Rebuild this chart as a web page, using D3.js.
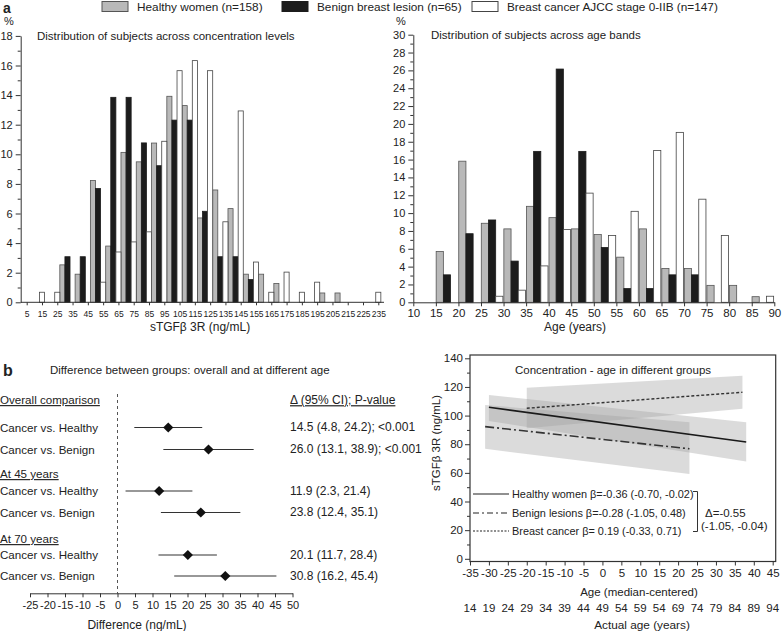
<!DOCTYPE html>
<html>
<head>
<meta charset="utf-8">
<script src="https://cdn.jsdelivr.net/npm/d3@7"></script>
<style>
body { margin: 0; background: #fff; }
text { font-family: "Liberation Sans", Arial, sans-serif; fill: #222; }
</style>
</head>
<body>
<script>

// ---- data ----
const groupNames = ["Healthy women (n=158)", "Benign breast lesion (n=65)", "Breast cancer AJCC stage 0-IIB (n=147)"];

// concentration histogram (% per bin, bins labelled by upper edge)
const concTicks = [5, 15, 25, 35, 45, 55, 65, 75, 85, 95, 105, 115, 125, 135, 145, 155, 165, 175, 185, 195, 205, 215, 225, 235];
const concHealthy = [0, 0, 0, 2.53, 1.90, 8.23, 3.80, 10.13, 9.49, 10.76, 13.92, 13.29, 5.70, 7.59, 6.33, 1.90, 1.90, 1.27, 0, 0, 0.63, 0.63, 0, 0];
const concBenign = [0, 0, 0, 3.08, 3.08, 7.69, 13.85, 13.85, 10.77, 9.23, 12.31, 12.31, 6.15, 3.08, 3.08, 1.54, 0, 0, 0, 0, 0, 0, 0, 0];
const concCancer = [0, 0.68, 0.68, 0, 0, 1.36, 3.40, 4.08, 4.76, 10.88, 15.65, 16.33, 15.65, 5.44, 12.93, 2.72, 0.68, 2.04, 0.68, 1.36, 0, 0, 0, 0.68];

// age histogram (% per 5-year band, bands labelled by lower edge)
const ageTicks = [10, 15, 20, 25, 30, 35, 40, 45, 50, 55, 60, 65, 70, 75, 80, 85, 90];
const ageBands = [10, 15, 20, 25, 30, 35, 40, 45, 50, 55, 60, 65, 70, 75, 80, 85];
const ageHealthy = [0, 5.70, 15.82, 8.86, 8.23, 10.76, 9.49, 8.23, 7.59, 5.06, 8.23, 3.80, 3.80, 1.90, 1.90, 0.63];
const ageBenign = [0, 3.08, 7.69, 9.23, 4.62, 16.92, 26.15, 16.92, 6.15, 1.54, 1.54, 3.08, 3.08, 0, 0, 0];
const ageCancer = [0, 0, 0, 0.68, 1.36, 4.08, 8.16, 12.24, 7.48, 10.20, 17.01, 19.05, 11.56, 7.48, 0, 0.68];

// forest plot
const forestHeaders = ["Overall comparison", "At 45 years", "At 70 years"];
const forestLabels = ["Cancer vs. Healthy", "Cancer vs. Benign", "Cancer vs. Healthy", "Cancer vs. Benign", "Cancer vs. Healthy", "Cancer vs. Benign"];
const forestEst = [14.5, 26.0, 11.9, 23.8, 20.1, 30.8];
const forestLo = [4.8, 13.1, 2.3, 12.4, 11.7, 16.2];
const forestHi = [24.2, 38.9, 21.4, 35.1, 28.4, 45.4];
const forestP = ["<0.001", "<0.001", "", "", "", ""];
const forestTicks = [-25, -20, -15, -10, -5, 0, 5, 10, 15, 20, 25, 30, 35, 40, 45, 50];

// regression: concentration vs age
const regLegend = ["Healthy women \u03b2=-0.36 (-0.70, -0.02)", "Benign lesions \u03b2=-0.28 (-1.05, 0.48)", "Breast cancer  \u03b2= 0.19 (-0.33, 0.71)"];
const regX0 = [-30, -31, -20];
const regX1 = [38, 23, 37];
const regY0 = [105.8, 92.3, 105.1];
const regY1 = [81.5, 76.8, 116.3];
const bandUp0 = [114.4, 107.4, 119.5];
const bandUp1 = [95.4, 95.4, 127.9];
const bandLo0 = [96.3, 76.8, 91.2];
const bandLo1 = [67.9, 59.2, 104.7];
const centredTicks = [-35, -30, -25, -20, -15, -10, -5, 0, 5, 10, 15, 20, 25, 30, 35, 40, 45];
const actualAgeLabels = ["14", "19", "24", "29", "34", "39", "44", "49", "54", "59", "54", "69", "74", "79", "84", "89", "94"];

// ---- styles ----
const fills = ["#b9b9b9", "#1c1c1c", "#ffffff"];
const strokes = ["#555", "#1c1c1c", "#444"];
const plain = d => String(d);   // hyphen-minus, like the original

const svg = d3.select('body')
    .append("svg")
    .attr("width", 783)
    .attr("height", 631);

function styleAxis(g, size) {
    g.selectAll("line").attr("stroke", "#333");
    g.selectAll("path").attr("stroke", "#333");
    g.selectAll("text").attr("font-size", size);
}

// ---- legend ----
const legendX = [102, 282, 472];
groupNames.forEach((name, i) => {
    svg.append("rect")
        .attr("x", legendX[i]).attr("y", 1.5)
        .attr("width", 26).attr("height", 10)
        .attr("fill", fills[i]).attr("stroke", strokes[i]).attr("stroke-width", 1);
    svg.append("text")
        .attr("x", legendX[i] + 35).attr("y", 11)
        .attr("font-size", 11.8)
        .text(name);
});

svg.append("text").attr("x", 3).attr("y", 13).attr("font-size", 14).attr("font-weight", "bold").text("a");

// ---- concentration histogram ----
const xC = d3.scaleLinear().domain([5, 235]).range([26.7, 378.3]);
const yC = d3.scaleLinear().domain([0, 18]).range([302.3, 35.9]);
const cw = (xC(15) - xC(5)) / 3;

[concHealthy, concBenign, concCancer].forEach((vals, s) => {
    svg.append("g")
        .selectAll("rect")
        .data(vals.map((v, i) => ({ v: v, t: concTicks[i] })).filter(d => d.v > 0))
        .enter()
        .append("rect")
        .attr("x", d => xC(d.t) - (2.5 - s) * cw)
        .attr("y", d => yC(d.v))
        .attr("width", cw)
        .attr("height", d => yC(0) - yC(d.v))
        .attr("fill", fills[s])
        .attr("stroke", strokes[s])
        .attr("stroke-width", 0.8);
});

svg.append("g")
    .attr("transform", "translate(20.7,0)")
    .call(d3.axisLeft(yC).tickValues(d3.range(0, 19, 2)).tickSize(5).tickSizeOuter(0).tickPadding(3).tickFormat(plain))
    .call(g => styleAxis(g, 11));
svg.append("g")
    .attr("transform", "translate(20.7,0)")
    .call(d3.axisLeft(yC).tickValues(d3.range(1, 18, 2)).tickSize(3).tickFormat(""))
    .call(g => g.select(".domain").remove())
    .call(g => styleAxis(g, 11));

svg.append("g")
    .attr("transform", `translate(0,${yC(0)})`)
    .call(d3.axisBottom(xC).tickValues(concTicks).tickSize(3).tickPadding(6).tickFormat(plain))
    .call(g => g.select(".domain").remove())
    .call(g => styleAxis(g, 8.5));
svg.append("line")
    .attr("x1", 20.7).attr("x2", 384)
    .attr("y1", yC(0)).attr("y2", yC(0))
    .attr("stroke", "#333");

svg.append("text").attr("x", 4).attr("y", 25).attr("font-size", 11).text("%");
svg.append("text").attr("x", 37).attr("y", 40).attr("font-size", 11.5)
    .text("Distribution of subjects across concentration levels");
svg.append("text").attr("x", 200).attr("y", 331).attr("font-size", 12)
    .attr("text-anchor", "middle").text("sTGF\u03b2 3R (ng/mL)");

// ---- age histogram ----
const xA = d3.scaleLinear().domain([10, 90]).range([413.3, 774.3]);
const yA = d3.scaleLinear().domain([0, 30]).range([302.3, 34.7]);
const aw = 7.2;

[ageHealthy, ageBenign, ageCancer].forEach((vals, s) => {
    svg.append("g")
        .selectAll("rect")
        .data(vals.map((v, i) => ({ v: v, b: ageBands[i] })).filter(d => d.v > 0))
        .enter()
        .append("rect")
        .attr("x", d => xA(d.b) + 0.3 + s * aw)
        .attr("y", d => yA(d.v))
        .attr("width", aw)
        .attr("height", d => yA(0) - yA(d.v))
        .attr("fill", fills[s])
        .attr("stroke", strokes[s])
        .attr("stroke-width", 0.8);
});

svg.append("g")
    .attr("transform", "translate(413.3,0)")
    .call(d3.axisLeft(yA).tickValues(d3.range(0, 31, 2)).tickSize(5).tickSizeOuter(0).tickPadding(3).tickFormat(plain))
    .call(g => styleAxis(g, 11));
svg.append("g")
    .attr("transform", "translate(413.3,0)")
    .call(d3.axisLeft(yA).tickValues(d3.range(1, 30, 2)).tickSize(3).tickFormat(""))
    .call(g => g.select(".domain").remove())
    .call(g => styleAxis(g, 11));
svg.append("g")
    .attr("transform", `translate(0,${yA(0)})`)
    .call(d3.axisBottom(xA).tickValues(ageTicks).tickSize(4).tickSizeOuter(0).tickPadding(3).tickFormat(plain))
    .call(g => styleAxis(g, 11.5));

svg.append("text").attr("x", 396).attr("y", 25).attr("font-size", 11).text("%");
svg.append("text").attr("x", 431).attr("y", 39).attr("font-size", 11.5)
    .text("Distribution of subjects across age bands");
svg.append("text").attr("x", 575).attr("y", 331).attr("font-size", 12)
    .attr("text-anchor", "middle").text("Age (years)");

// ---- forest plot ----
svg.append("text").attr("x", 3).attr("y", 376).attr("font-size", 16).attr("font-weight", "bold").text("b");
svg.append("text").attr("x", 50).attr("y", 374).attr("font-size", 11.5)
    .text("Difference between groups: overall and at different age");

const xF = d3.scaleLinear().domain([-25, 50]).range([30, 292.5]);
const headerY = [400, 474, 539];
const rowY = [427.5, 449.5, 491, 512.5, 555, 576];
const fAxisY = 593.3;

svg.append("line")
    .attr("x1", xF(0)).attr("x2", xF(0))
    .attr("y1", 394).attr("y2", fAxisY)
    .attr("stroke", "#555").attr("stroke-dasharray", "3,3");

forestHeaders.forEach((h, i) => {
    svg.append("text").attr("x", 0).attr("y", headerY[i]).attr("dy", "0.35em")
        .attr("font-size", 11.6).attr("text-decoration", "underline").text(h);
});
svg.append("text").attr("x", 290).attr("y", headerY[0]).attr("dy", "0.35em")
    .attr("font-size", 12).attr("text-decoration", "underline").text("\u0394 (95% CI); P-value");

forestLabels.forEach((lab, i) => {
    svg.append("text").attr("x", 0).attr("y", rowY[i]).attr("dy", "0.35em")
        .attr("font-size", 11.6).text(lab);
    svg.append("line")
        .attr("x1", xF(forestLo[i])).attr("x2", xF(forestHi[i]))
        .attr("y1", rowY[i]).attr("y2", rowY[i])
        .attr("stroke", "#333").attr("stroke-width", 1.2);
    svg.append("path")
        .attr("d", d3.symbol(d3.symbolSquare, 52)())
        .attr("transform", `translate(${xF(forestEst[i])},${rowY[i]}) rotate(45)`)
        .attr("fill", "#111");
    const txt = `${forestEst[i].toFixed(1)} (${forestLo[i].toFixed(1)}, ${forestHi[i].toFixed(1)})` + (forestP[i] ? `; ${forestP[i]}` : "");
    svg.append("text").attr("x", 290).attr("y", rowY[i] - 0.5).attr("dy", "0.35em")
        .attr("font-size", 12).text(txt);
});

svg.append("g")
    .attr("transform", `translate(0,${fAxisY})`)
    .call(d3.axisBottom(xF).tickValues(forestTicks).tickSize(4).tickSizeOuter(0).tickPadding(4).tickFormat(plain))
    .call(g => styleAxis(g, 11));
svg.append("text").attr("x", 137).attr("y", 629).attr("font-size", 12)
    .attr("text-anchor", "middle").text("Difference (ng/mL)");

// ---- regression panel ----
const xR = d3.scaleLinear().domain([-35, 45]).range([470, 772.7]);
const yR = d3.scaleLinear().domain([0, 140]).range([558.8, 358.3]);
const frameBottom = 561.5;

// confidence bands
regX0.forEach((x0, i) => {
    const pts = [[x0, bandUp0[i]], [regX1[i], bandUp1[i]], [regX1[i], bandLo1[i]], [x0, bandLo0[i]]];
    svg.append("path")
        .attr("d", d3.line().x(d => xR(d[0])).y(d => yR(d[1]))(pts) + "Z")
        .attr("fill", "#a0a0a0")
        .attr("fill-opacity", 0.38);
});

const dashes = [null, "9,3,2,3", "3,2"];
const widths = [1.6, 1.6, 1.4];
regX0.forEach((x0, i) => {
    svg.append("line")
        .attr("x1", xR(x0)).attr("y1", yR(regY0[i]))
        .attr("x2", xR(regX1[i])).attr("y2", yR(regY1[i]))
        .attr("stroke", i === 0 ? "#1a1a1a" : "#333")
        .attr("stroke-width", widths[i])
        .attr("stroke-dasharray", dashes[i]);
});

svg.append("rect")
    .attr("x", 470).attr("y", 355)
    .attr("width", 305.7).attr("height", frameBottom - 355)
    .attr("fill", "none").attr("stroke", "#333").attr("stroke-width", 1.2);

svg.append("g")
    .attr("transform", "translate(470,0)")
    .call(d3.axisLeft(yR).tickValues(d3.range(0, 141, 20)).tickSize(5).tickPadding(2).tickFormat(plain))
    .call(g => g.select(".domain").remove())
    .call(g => styleAxis(g, 11.5));
svg.append("g")
    .attr("transform", "translate(470,0)")
    .call(d3.axisLeft(yR).tickValues(d3.range(10, 140, 20)).tickSize(3).tickFormat(""))
    .call(g => g.select(".domain").remove())
    .call(g => styleAxis(g, 11));
svg.append("g")
    .attr("transform", `translate(0,${frameBottom})`)
    .call(d3.axisBottom(xR).tickValues(centredTicks).tickSize(4).tickPadding(3).tickFormat(plain))
    .call(g => g.select(".domain").remove())
    .call(g => styleAxis(g, 11.5));

svg.append("g")
    .selectAll("text")
    .data(actualAgeLabels)
    .enter()
    .append("text")
    .attr("x", (d, i) => xR(centredTicks[i]))
    .attr("y", 612)
    .attr("text-anchor", "middle")
    .attr("font-size", 11.5)
    .text(d => d);

svg.append("text").attr("x", 639).attr("y", 596).attr("font-size", 11.5)
    .attr("text-anchor", "middle").text("Age (median-centered)");
svg.append("text").attr("x", 642).attr("y", 629).attr("font-size", 11.8)
    .attr("text-anchor", "middle").text("Actual age (years)");
svg.append("text")
    .attr("transform", "translate(440,443) rotate(-90)")
    .attr("font-size", 11.5)
    .attr("text-anchor", "middle")
    .text("sTGF\u03b2 3R (ng/mL)");
svg.append("text").attr("x", 515).attr("y", 374).attr("font-size", 11.5)
    .text("Concentration - age in different groups");

// legend inside regression panel
const legY = [494, 513, 531];
regLegend.forEach((t, i) => {
    svg.append("line")
        .attr("x1", 473).attr("x2", 509)
        .attr("y1", legY[i]).attr("y2", legY[i])
        .attr("stroke", "#222").attr("stroke-width", 1.2)
        .attr("stroke-dasharray", i === 0 ? null : (i === 1 ? "6,3,2,3" : "2,1.5"));
    svg.append("text").attr("x", 512).attr("y", legY[i]).attr("dy", "0.35em")
        .attr("font-size", 10.9).text(t);
});
svg.append("path")
    .attr("d", "M693,491.5H697.5V531.5H693")
    .attr("fill", "none").attr("stroke", "#333");
svg.append("text").attr("x", 705).attr("y", 513).attr("dy", "0.35em").attr("font-size", 11.5).text("\u0394=-0.55");
svg.append("text").attr("x", 701).attr("y", 525.5).attr("dy", "0.35em").attr("font-size", 11.5).text("(-1.05, -0.04)");

</script>
</body>
</html>
